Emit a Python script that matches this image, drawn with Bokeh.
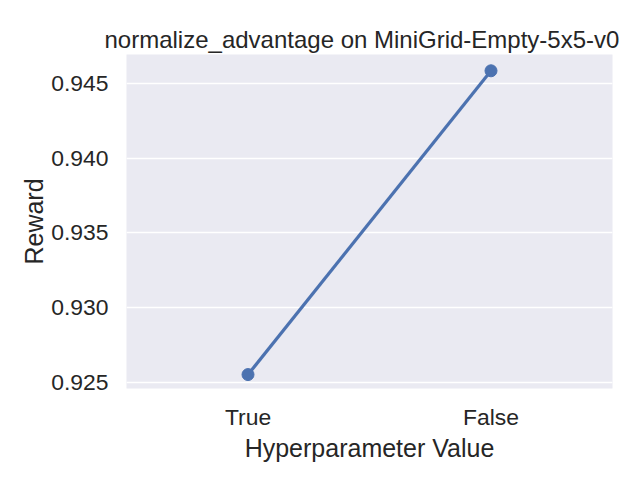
from bokeh.plotting import figure
from bokeh.models import FactorRange, Range1d, FixedTicker, PrintfTickFormatter
from bokeh.embed import file_html
from bokeh.resources import INLINE

categories = ["True", "False"]
rewards = [0.92553, 0.94584]
y_ticks = [0.925, 0.930, 0.935, 0.940, 0.945]

FONT = "Liberation Sans"
TXT = "#262626"
BLUE = "#4C72B0"

p = figure(width=624, height=464, output_backend="svg", toolbar_location=None,
           x_range=FactorRange(*categories), y_range=Range1d(0.9246, 0.94693),
           title="normalize_advantage on MiniGrid-Empty-5x5-v0",
           min_border_left=126, min_border_right=12, min_border_top=54, min_border_bottom=74)

p.background_fill_color = "#EAEAF2"
p.border_fill_color = "white"
p.outline_line_color = None

p.title.text_font = FONT
p.title.text_font_size = "24px"
p.title.text_font_style = "normal"
p.title.text_color = TXT
p.title.align = "left"
p.title.offset = -22
p.title.standoff = 4

p.line(categories, rewards, line_color=BLUE, line_width=3.2)
p.scatter(categories, rewards, size=12, fill_color=BLUE, line_color=BLUE)

p.xgrid.grid_line_color = None
p.ygrid.grid_line_color = "white"
p.ygrid.grid_line_width = 1.3

p.yaxis.ticker = FixedTicker(ticks=y_ticks)
p.yaxis.formatter = PrintfTickFormatter(format="%.3f")

for ax in (p.xaxis[0], p.yaxis[0]):
    ax.axis_line_color = None
    ax.major_tick_line_color = None
    ax.minor_tick_line_color = None
    ax.major_label_text_font = FONT
    ax.major_label_text_font_size = "22.9px"
    ax.major_label_text_color = TXT
    ax.axis_label_text_font = FONT
    ax.axis_label_text_font_size = "25px"
    ax.axis_label_text_font_style = "normal"
    ax.axis_label_text_color = TXT

p.xaxis.major_label_standoff = 9
p.yaxis.major_label_standoff = 12
p.xaxis.axis_label = "Hyperparameter Value"
p.yaxis.axis_label = "Reward"
p.xaxis.axis_label_standoff = 1
p.yaxis.axis_label_standoff = 0

open("out.html", "w").write(file_html(p, INLINE))
